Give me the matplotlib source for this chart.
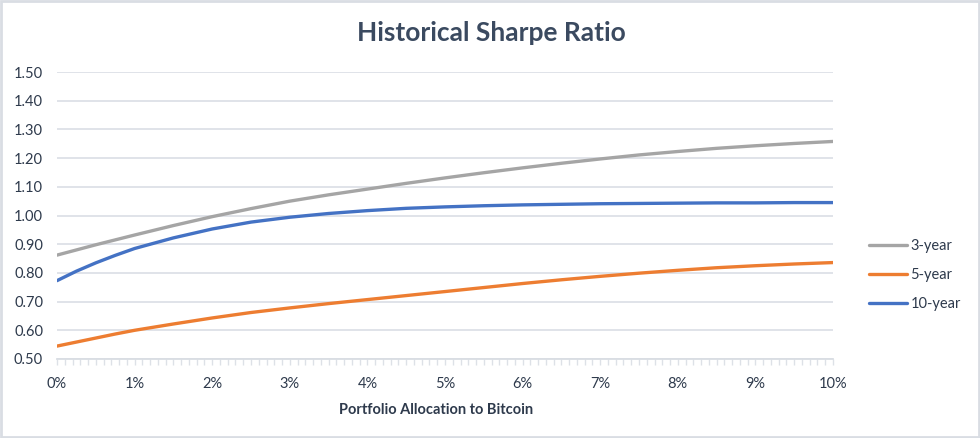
import matplotlib.pyplot as plt
from matplotlib.patches import Rectangle
from matplotlib.ticker import MultipleLocator, FuncFormatter

plt.rcParams['font.family'] = ['Lato', 'DejaVu Sans']

# Portfolio allocation to bitcoin (%)
alloc = [0, 0.25, 0.5, 0.75, 1, 1.5, 2, 2.5, 3, 3.5, 4, 4.5, 5,
         5.5, 6, 6.5, 7, 7.5, 8, 8.5, 9, 9.5, 10]

sharpe_3y = [0.862, 0.880, 0.898, 0.915, 0.932, 0.965, 0.996, 1.024, 1.050, 1.072, 1.092, 1.112, 1.131,
             1.149, 1.166, 1.182, 1.197, 1.211, 1.223, 1.234, 1.243, 1.251, 1.258]
sharpe_5y = [0.545, 0.559, 0.573, 0.587, 0.600, 0.622, 0.643, 0.662, 0.678, 0.693, 0.707, 0.721, 0.735,
             0.749, 0.763, 0.776, 0.788, 0.799, 0.809, 0.818, 0.825, 0.831, 0.836]
sharpe_10y = [0.773, 0.806, 0.835, 0.861, 0.885, 0.922, 0.953, 0.977, 0.994, 1.007, 1.017, 1.025, 1.030,
              1.034, 1.037, 1.039, 1.041, 1.042, 1.043, 1.044, 1.044, 1.045, 1.045]

text_col = '#2e3a4c'
grid_col = '#dde1e7'

fig = plt.figure(figsize=(9.8, 4.38), dpi=100)
ax = fig.add_axes([57 / 980, 1 - 359 / 438, 776 / 980, 287 / 438])

ax.plot(alloc, sharpe_3y, color='#a5a5a5', lw=2.4, solid_capstyle='round', label='3-year')
ax.plot(alloc, sharpe_5y, color='#ed7d31', lw=2.4, solid_capstyle='round', label='5-year')
ax.plot(alloc, sharpe_10y, color='#4472c4', lw=2.4, solid_capstyle='round', label='10-year')

ax.set_xlim(0, 10)
ax.set_ylim(0.5, 1.5)
ax.yaxis.set_major_locator(MultipleLocator(0.1))
ax.yaxis.set_major_formatter(FuncFormatter(lambda v, p: f'{v:.2f}'))
ax.xaxis.set_major_locator(MultipleLocator(1))
ax.xaxis.set_minor_locator(MultipleLocator(0.1))
ax.xaxis.set_major_formatter(FuncFormatter(lambda v, p: f'{v:.0f}%'))

ax.grid(axis='y', color=grid_col, lw=1.3)
ax.set_axisbelow(True)
for s in ['top', 'right', 'left']:
    ax.spines[s].set_visible(False)
ax.spines['bottom'].set_color('#d9dde3')
ax.spines['bottom'].set_linewidth(1.3)

ax.tick_params(axis='y', length=0, pad=10, labelsize=10.5, labelcolor=text_col)
ax.tick_params(axis='x', which='both', length=4, color='#dde1e7', width=1,
               pad=9, labelsize=10.5, labelcolor=text_col)

ax.set_xlabel('Portfolio Allocation to Bitcoin', fontsize=10.5, fontweight='bold',
              color=text_col, labelpad=8)
ax.xaxis.set_label_coords(0.489, -0.155)
fig.text(491 / 980, 1 - 33 / 438, 'Historical Sharpe Ratio', ha='center', va='center',
         fontsize=19, fontweight='bold', color='#3b4a60')

fig.legend(loc='center left', bbox_to_anchor=(869 / 980, 1 - 275 / 438),
           bbox_transform=fig.transFigure, frameon=False, borderpad=0,
           borderaxespad=0, handlelength=2.6, handletextpad=0.25,
           labelspacing=1.05, fontsize=10.5, labelcolor=text_col)

fig.patches.append(Rectangle((0.001, 0.002), 0.998, 0.996, transform=fig.transFigure,
                             fill=False, edgecolor='#d9dde3', lw=2))

fig.savefig('out.png', dpi=100)
